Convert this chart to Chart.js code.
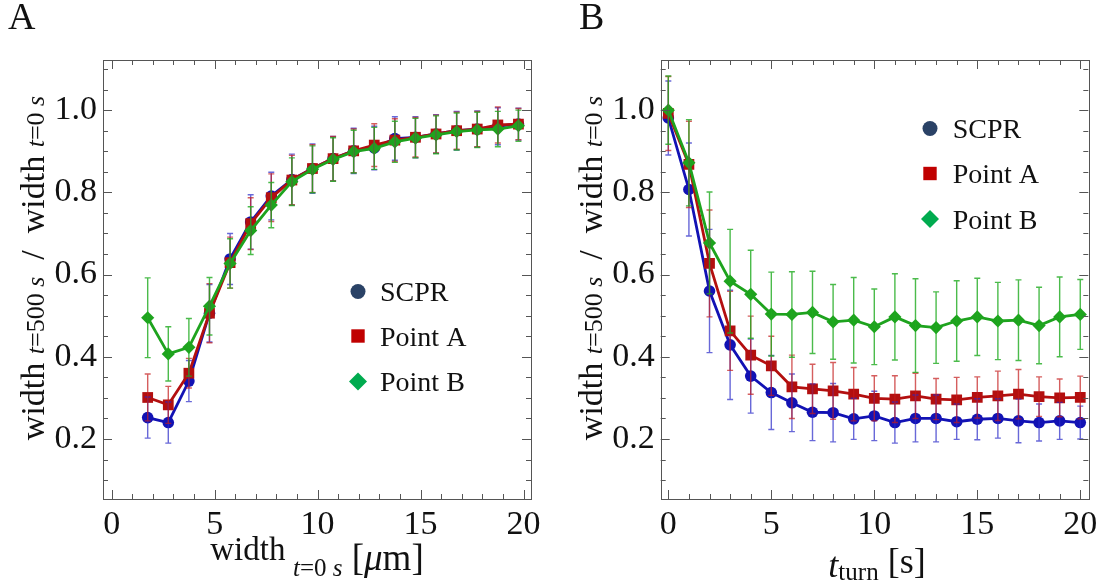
<!DOCTYPE html>
<html>
<head>
<meta charset="utf-8">
<script src="https://cdn.jsdelivr.net/npm/chart.js@4.4.1/dist/chart.umd.min.js"></script>
<style>
  html, body { margin:0; padding:0; background:#fff; }
  #wrap { position:relative; width:1104px; height:586px; }
  canvas { position:absolute; top:0; }
  #chartA { left:0; }
  #chartB { left:552px; }
</style>
</head>
<body>
<div id="wrap">
  <canvas id="chartA" width="552" height="586"></canvas>
  <canvas id="chartB" width="552" height="586"></canvas>
</div>
<script>
// DATA - PANEL A (initial width bins)
const widthBins = [1.75, 2.75, 3.75, 4.75, 5.75, 6.75, 7.75, 8.75, 9.75, 10.75, 11.75, 12.75, 13.75, 14.75, 15.75, 16.75, 17.75, 18.75, 19.75];

const scprA   = [0.252, 0.240, 0.341, 0.506, 0.638, 0.728, 0.791, 0.831, 0.858, 0.882, 0.901, 0.908, 0.931, 0.934, 0.942, 0.950, 0.954, 0.961, 0.966];
const pointAA = [0.301, 0.283, 0.360, 0.506, 0.629, 0.724, 0.787, 0.830, 0.858, 0.882, 0.901, 0.915, 0.927, 0.934, 0.942, 0.950, 0.954, 0.964, 0.966];
const pointBA = [0.495, 0.407, 0.423, 0.523, 0.627, 0.707, 0.769, 0.826, 0.856, 0.880, 0.899, 0.907, 0.923, 0.932, 0.940, 0.948, 0.952, 0.954, 0.962];

const scprAErr   = [0.050, 0.050, 0.050, 0.070, 0.062, 0.066, 0.058, 0.062, 0.060, 0.054, 0.055, 0.053, 0.053, 0.050, 0.047, 0.047, 0.044, 0.045, 0.039];
const pointAAErr = [0.057, 0.045, 0.036, 0.072, 0.062, 0.063, 0.058, 0.060, 0.058, 0.054, 0.053, 0.052, 0.052, 0.048, 0.046, 0.045, 0.043, 0.044, 0.038];
const pointBAErr = [0.097, 0.066, 0.070, 0.070, 0.060, 0.058, 0.055, 0.058, 0.057, 0.053, 0.052, 0.051, 0.050, 0.048, 0.046, 0.045, 0.043, 0.043, 0.038];

// DATA - PANEL B (turn time)
const turnTimes = [0, 1, 2, 3, 4, 5, 6, 7, 8, 9, 10, 11, 12, 13, 14, 15, 16, 17, 18, 19, 20];

const scprB   = [0.981, 0.807, 0.560, 0.429, 0.353, 0.313, 0.288, 0.265, 0.264, 0.249, 0.256, 0.240, 0.250, 0.250, 0.242, 0.248, 0.250, 0.244, 0.240, 0.244, 0.240];
const pointAB = [0.992, 0.868, 0.627, 0.463, 0.404, 0.378, 0.327, 0.322, 0.317, 0.309, 0.299, 0.297, 0.305, 0.297, 0.295, 0.301, 0.305, 0.309, 0.303, 0.300, 0.301];
const pointBB = [1.000, 0.872, 0.677, 0.584, 0.552, 0.504, 0.503, 0.508, 0.485, 0.489, 0.473, 0.497, 0.476, 0.471, 0.487, 0.497, 0.487, 0.489, 0.476, 0.497, 0.503];

const scprBErr   = [0.090, 0.113, 0.150, 0.133, 0.090, 0.090, 0.070, 0.069, 0.071, 0.050, 0.060, 0.050, 0.057, 0.057, 0.043, 0.050, 0.048, 0.053, 0.045, 0.045, 0.040];
const pointABErr = [0.090, 0.105, 0.130, 0.096, 0.095, 0.072, 0.077, 0.060, 0.069, 0.065, 0.055, 0.057, 0.055, 0.050, 0.055, 0.050, 0.060, 0.060, 0.048, 0.046, 0.052];
const pointBBErr = [0.083, 0.105, 0.124, 0.126, 0.107, 0.102, 0.104, 0.100, 0.091, 0.104, 0.092, 0.105, 0.114, 0.087, 0.098, 0.094, 0.094, 0.098, 0.093, 0.097, 0.085];

// TICKS / LABELS
const xTickValues = [0, 5, 10, 15, 20];
const yTickValues = [0.2, 0.4, 0.6, 0.8, 1.0];
const seriesNames = ["SCPR", "Point A", "Point B"];

// STYLE
const SERIF = '"Liberation Serif", "Times New Roman", serif';
const lineColors = ["#1212b4", "#b30f0f", "#1ea31e"];
const barColors = ["rgba(40,40,200,0.7)", "rgba(195,25,25,0.7)", "rgba(30,170,30,0.8)"];
const legendColors = ["#2a4266", "#c00000", "#00ab4f"];
const pointStyles = ["circle", "rect", "rectRot"];
const pointSizes = [5.8, 7.6, 6.6];


function makeDatasets(xs, series, errs) {
  return series.map((ys, k) => ({
    label: seriesNames[k],
    data: xs.map((x, i) => ({ x: x, y: ys[i] })),
    errors: errs[k],
    order: series.length - 1 - k,   // later series drawn on top
    showLine: true,
    borderColor: lineColors[k],
    backgroundColor: lineColors[k],
    borderWidth: 2.8,
    pointStyle: pointStyles[k],
    pointRadius: pointSizes[k],
    pointBorderWidth: 0,
    pointBackgroundColor: lineColors[k]
  }));
}


// ERROR BARS
const errorBars = {
  id: "errorBars",
  afterDatasetsDraw(chart) {
    const ctx = chart.ctx;
    const xs = chart.scales.x, ys = chart.scales.y;
    ctx.save();
    ctx.lineWidth = 1.4;
    chart.data.datasets.forEach((ds, k) => {
      ctx.strokeStyle = barColors[k];
      ds.data.forEach((p, i) => {
        const e = ds.errors[i];
        const px = xs.getPixelForValue(p.x);
        const top = ys.getPixelForValue(p.y + e);
        const bot = ys.getPixelForValue(p.y - e);
        ctx.beginPath();
        ctx.moveTo(px, top); ctx.lineTo(px, bot);
        ctx.moveTo(px - 3, top); ctx.lineTo(px + 3, top);
        ctx.moveTo(px - 3, bot); ctx.lineTo(px + 3, bot);
        ctx.stroke();
      });
    });
    ctx.restore();
  }
};


// FRAME WITH INWARD TICKS
const frameTicks = {
  id: "frameTicks",
  afterDraw(chart) {
    const ctx = chart.ctx;
    const a = chart.chartArea;
    const x = chart.scales.x, y = chart.scales.y;
    ctx.save();
    ctx.strokeStyle = "#555";
    ctx.lineWidth = 1;
    ctx.strokeRect(Math.round(a.left) + 0.5, Math.round(a.top) + 0.5,
      Math.round(a.right - a.left), Math.round(a.bottom - a.top));
    ctx.beginPath();
    for (let v = Math.ceil(x.min); v <= x.max; v++) {
      const len = v % 5 === 0 ? 9 : 5;
      const px = Math.round(x.getPixelForValue(v)) + 0.5;
      ctx.moveTo(px, a.bottom); ctx.lineTo(px, a.bottom - len);
      ctx.moveTo(px, a.top); ctx.lineTo(px, a.top + len);
    }
    for (let i = Math.ceil(y.min / 0.05); i * 0.05 <= y.max; i++) {
      const len = i % 4 === 0 ? 9 : 5;
      const py = Math.round(y.getPixelForValue(i * 0.05)) + 0.5;
      ctx.moveTo(a.left, py); ctx.lineTo(a.left + len, py);
      ctx.moveTo(a.right, py); ctx.lineTo(a.right - len, py);
    }
    ctx.stroke();
    ctx.restore();
  }
};


// TEXT RUNS (for subscripts)
function runFont(r) {
  return (r[2] ? "italic " : "") + r[1] + "px " + SERIF;
}

function drawRuns(ctx, runs, x, y, rotate) {
  ctx.save();
  ctx.translate(x, y);
  if (rotate) ctx.rotate(-Math.PI / 2);
  let total = 0;
  runs.forEach(r => { ctx.font = runFont(r); total += ctx.measureText(r[0]).width; });
  let cx = -total / 2;
  ctx.textBaseline = "alphabetic";
  ctx.textAlign = "left";
  ctx.fillStyle = "#111";
  runs.forEach(r => {
    ctx.font = runFont(r);
    ctx.fillText(r[0], cx, r[3] || 0);
    cx += ctx.measureText(r[0]).width;
  });
  ctx.restore();
}

const yTitleRuns = [
  ["width", 34], [" ", 34], ["t", 26, true], ["=500 ", 26], ["s", 26, true],
  ["  /  width", 34], [" ", 34], ["t", 26, true], ["=0 ", 26], ["s", 26, true]
];

const panelText = {
  id: "panelText",
  afterDraw(chart, args, opts) {
    const ctx = chart.ctx;
    ctx.save();
    ctx.fillStyle = "#111";
    ctx.font = "38px " + SERIF;
    ctx.textBaseline = "alphabetic";
    ctx.fillText(opts.letter, opts.letterX, 29);
    ctx.restore();

    drawRuns(ctx, yTitleRuns, opts.yTitleX, 268, true);
    drawRuns(ctx, opts.xTitle, opts.xTitleX, opts.xTitleY, false);

    // legend
    const lg = opts.legend;
    chart.data.datasets.forEach((ds, k) => {
      const cy = lg.rows[k];
      ctx.save();
      ctx.fillStyle = legendColors[k];
      ctx.beginPath();
      if (k === 0) {
        ctx.arc(lg.mx, cy, 7.5, 0, Math.PI * 2);
      } else if (k === 1) {
        ctx.rect(lg.mx - 6.7, cy - 6.7, 13.4, 13.4);
      } else {
        ctx.moveTo(lg.mx, cy - 9); ctx.lineTo(lg.mx + 9, cy);
        ctx.lineTo(lg.mx, cy + 9); ctx.lineTo(lg.mx - 9, cy);
        ctx.closePath();
      }
      ctx.fill();
      ctx.fillStyle = "#111";
      ctx.font = "28px " + SERIF;
      ctx.textBaseline = "alphabetic";
      ctx.fillText(ds.label, lg.tx, cy + 9.5);
      ctx.restore();
    });
  }
};


function makeChart(id, xs, series, errs, xMin, xMax, leftW, rightPad, text) {
  return new Chart(document.getElementById(id), {
    type: "scatter",
    data: { datasets: makeDatasets(xs, series, errs) },
    options: {
      responsive: false,
      animation: false,
      layout: { padding: { top: 60, right: rightPad, left: 0, bottom: 0 } },
      plugins: {
        legend: { display: false },
        tooltip: { enabled: false },
        panelText: text
      },
      scales: {
        x: {
          type: "linear",
          min: xMin,
          max: xMax,
          grid: { display: false, drawTicks: false },
          border: { display: false },
          ticks: {
            font: { family: SERIF, size: 34 },
            color: "#111",
            padding: 6,
            maxRotation: 0,
            callback: v => String(v)
          },
          afterBuildTicks: s => { s.ticks = xTickValues.map(v => ({ value: v })); },
          afterFit: s => { s.height = 87; }
        },
        y: {
          type: "linear",
          min: 0.054,
          max: 1.122,
          grid: { display: false, drawTicks: false },
          border: { display: false },
          ticks: {
            font: { family: SERIF, size: 34 },
            color: "#111",
            padding: 6,
            callback: v => Number(v).toFixed(1)
          },
          afterBuildTicks: s => { s.ticks = yTickValues.map(v => ({ value: v })); },
          afterFit: s => { s.width = leftW; }
        }
      }
    },
    plugins: [errorBars, frameTicks, panelText]
  });
}


// PANEL A
makeChart("chartA", widthBins, [scprA, pointAA, pointBA], [scprAErr, pointAAErr, pointBAErr],
  -0.42, 20.36, 103, 21, {
    letter: "A", letterX: 8,
    yTitleX: 44,
    xTitle: [["width", 33, false, -10], [" ", 30], ["t", 25, true, 6], ["=0 ", 25, false, 6], ["s", 25, true, 6],
             [" [", 37], ["\u03bc", 37, true], ["m]", 37]],
    xTitleX: 317, xTitleY: 570,
    legend: { mx: 358, tx: 380, rows: [291.5, 336, 381.5] }
  });

// PANEL B
makeChart("chartB", turnTimes, [scprB, pointAB, pointBB], [scprBErr, pointABErr, pointBBErr],
  -0.37, 20.39, 108.7, 15.7, {
    letter: "B", letterX: 27,
    yTitleX: 49.7,
    xTitle: [["t", 36, true], ["turn", 25, false, 3], [" [s]", 36, false, -4]],
    xTitleX: 325, xTitleY: 577,
    legend: { mx: 378, tx: 400.7, rows: [128.5, 173.5, 219] }
  });
</script>
</body>
</html>
